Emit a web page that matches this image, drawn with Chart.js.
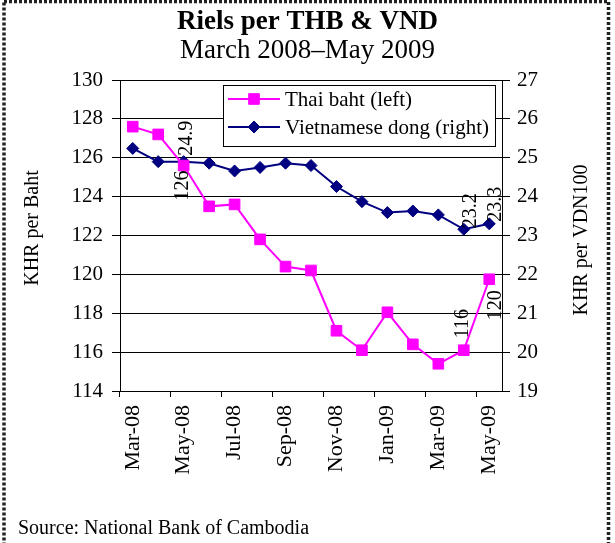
<!DOCTYPE html>
<html><head><meta charset="utf-8">
<script src="https://cdn.jsdelivr.net/npm/chart.js@4"></script>
<style>html,body{margin:0;padding:0;background:#fff;}canvas{display:block;}</style>
</head><body>
<canvas id="c" width="615" height="543"></canvas>
<script>
const months = ['Mar-08','Apr-08','May-08','Jun-08','Jul-08','Aug-08','Sep-08','Oct-08','Nov-08','Dec-08','Jan-09','Feb-09','Mar-09','Apr-09','May-09'];
const thaiBaht = [127.6,127.2,125.6,123.5,123.6,121.8,120.4,120.2,117.1,116.1,118.05,116.4,115.4,116.1,119.75];
const vietDong = [25.24,24.9,24.9,24.86,24.66,24.75,24.86,24.8,24.26,23.87,23.59,23.63,23.53,23.16,23.3];
const leftRange = [114, 130, 2];
const rightRange = [19, 27, 1];
const titleText = 'Riels per THB & VND';
const subtitleText = 'March 2008–May 2009';
const leftAxisTitle = 'KHR per Baht';
const rightAxisTitle = 'KHR per VDN100';
const sourceText = 'Source: National Bank of Cambodia';
const seriesNames = ['Thai baht (left)', 'Vietnamese dong (right)'];

const SERIF = '"Liberation Serif", "Times New Roman", serif';

const decorPlugin = {
  id: 'decor',
  beforeDraw(chart) {
    const ctx = chart.ctx;
    ctx.save(); ctx.fillStyle = '#fff'; ctx.fillRect(0, 0, chart.width, chart.height); ctx.restore();
  },
  afterDraw(chart, args, o) {
    const ctx = chart.ctx;
    ctx.save();
    ctx.strokeStyle = '#222'; ctx.lineWidth = 3.5; ctx.setLineDash([3, 2]);
    ctx.strokeRect(4, 1.5, 604.5, 580);
    ctx.setLineDash([]);
    ctx.fillStyle = '#000';
    ctx.font = '20px ' + SERIF;
    ctx.textAlign = 'center'; ctx.textBaseline = 'middle';
    ctx.save(); ctx.translate(o.leftX, o.leftY); ctx.rotate(-Math.PI / 2); ctx.fillText(leftAxisTitle, 0, 0); ctx.restore();
    ctx.save(); ctx.translate(o.rightX, o.rightY); ctx.rotate(-Math.PI / 2); ctx.fillText(rightAxisTitle, 0, 0); ctx.restore();
    ctx.textAlign = 'left'; ctx.textBaseline = 'alphabetic';
    ctx.fillText(sourceText, o.srcX, o.srcY);
    ctx.restore();
  }
};

const boxLegend = {
  id: 'boxLegend',
  afterDatasetsDraw(chart, args, o) {
    const { ctx, chartArea } = chart;
    const x = chartArea.left + o.dx, y = chartArea.top + o.dy;
    ctx.save();
    ctx.fillStyle = '#fff'; ctx.fillRect(x, y, o.w, o.h);
    ctx.strokeStyle = '#000'; ctx.lineWidth = 1; ctx.strokeRect(x + 0.5, y + 0.5, o.w, o.h);
    chart.data.datasets.forEach((ds, i) => {
      const cy = y + o.row0 + i * o.rowGap;
      ctx.strokeStyle = ds.borderColor; ctx.lineWidth = ds.borderWidth;
      ctx.beginPath(); ctx.moveTo(x + 5, cy); ctx.lineTo(x + 57, cy); ctx.stroke();
      ctx.fillStyle = ds.backgroundColor; ctx.lineWidth = 1;
      Chart.helpers.drawPoint(ctx, { pointStyle: ds.pointStyle, radius: ds.pointRadius, borderWidth: 1, rotation: 0 }, x + 31, cy);
      ctx.fillStyle = '#000'; ctx.font = '21px ' + SERIF; ctx.textAlign = 'left'; ctx.textBaseline = 'middle';
      ctx.fillText(ds.label, x + 62, cy + 1);
    });
    ctx.restore();
  }
};

const pointLabels = {
  id: 'pointLabels',
  afterDatasetsDraw(chart, args, o) {
    const ctx = chart.ctx;
    ctx.save();
    ctx.fillStyle = '#000'; ctx.font = '20px ' + SERIF; ctx.textBaseline = 'middle';
    o.items.forEach(it => {
      const el = chart.getDatasetMeta(it.ds).data[it.i];
      const v = chart.data.datasets[it.ds].data[it.i];
      const txt = v.toFixed(it.ds === 0 ? 0 : 1);
      ctx.save();
      ctx.translate(el.x + it.dx, el.y + it.dy);
      ctx.rotate(-Math.PI / 2);
      ctx.textAlign = it.align;
      ctx.fillText(txt, 0, 0);
      ctx.restore();
    });
    ctx.restore();
  }
};

new Chart(document.getElementById('c'), {
  type: 'line',
  data: {
    labels: months,
    datasets: [
      { label: seriesNames[0], data: thaiBaht, yAxisID: 'yL', borderColor: '#FF00FF', backgroundColor: '#FF00FF',
        borderWidth: 2, pointStyle: 'rect', pointRadius: 7.5, pointBorderWidth: 1, pointHoverRadius: 7.5, tension: 0 },
      { label: seriesNames[1], data: vietDong, yAxisID: 'yR', borderColor: '#000080', backgroundColor: '#000080',
        borderWidth: 2, pointStyle: 'rectRot', pointRadius: 6, pointBorderWidth: 1, pointHoverRadius: 6, tension: 0 }
    ]
  },
  options: {
    responsive: false,
    animation: false,
    events: [],
    layout: { padding: { left: 0, right: 0, top: 0, bottom: 0 } },
    scales: {
      x: {
        type: 'category',
        offset: true,
        afterFit(s) { s.height = 152; },
        grid: { offset: true, drawOnChartArea: false, drawTicks: true, tickLength: 6,
          tickColor: (c) => (c.index % 2 === 0 ? '#000' : 'rgba(0,0,0,0)') },
        border: { color: '#000', width: 1 },
        ticks: { autoSkip: false, maxRotation: 90, minRotation: 90, padding: 8, color: '#000',
          font: { family: SERIF, size: 22 },
          callback: (v, i) => (i % 2 === 0 ? months[i] : '') }
      },
      yL: {
        position: 'left', min: leftRange[0], max: leftRange[1],
        afterFit(s) { s.width = 120; },
        grid: { color: '#000', lineWidth: 1, tickLength: 8 },
        border: { color: '#000', width: 1 },
        ticks: { stepSize: leftRange[2], padding: 9, color: '#000', font: { family: SERIF, size: 21 } }
      },
      yR: {
        position: 'right', min: rightRange[0], max: rightRange[1],
        afterFit(s) { s.width = 113; },
        grid: { drawOnChartArea: false, color: '#000', tickLength: 8 },
        border: { color: '#000', width: 1 },
        ticks: { stepSize: rightRange[2], padding: 7, color: '#000', font: { family: SERIF, size: 21 } }
      }
    },
    plugins: {
      legend: { display: false },
      tooltip: { enabled: false },
      title: { display: true, text: titleText, color: '#000',
        font: { family: SERIF, size: 27, weight: 'bold', lineHeight: 1 }, padding: { top: 9, bottom: 0 } },
      subtitle: { display: true, text: subtitleText, color: '#000',
        font: { family: SERIF, size: 27, weight: 'normal', lineHeight: 1 }, padding: { top: 1, bottom: 16 } },
      decor: { leftX: 33, leftY: 228, rightX: 582, rightY: 240, srcX: 18, srcY: 534 },
      boxLegend: { dx: 103, dy: 5, w: 272, h: 61, row0: 14, rowGap: 28 },
      pointLabels: { items: [
        { ds: 0, i: 2, dx: -1, dy: 5, align: 'right' },
        { ds: 0, i: 13, dx: -1, dy: -12, align: 'left' },
        { ds: 0, i: 14, dx: 6, dy: 11, align: 'right' },
        { ds: 1, i: 2, dx: 3.5, dy: -6, align: 'left' },
        { ds: 1, i: 13, dx: 7, dy: -1, align: 'left' },
        { ds: 1, i: 14, dx: 6, dy: -2, align: 'left' }
      ] }
    }
  },
  plugins: [decorPlugin, boxLegend, pointLabels]
});
</script>
</body></html>
